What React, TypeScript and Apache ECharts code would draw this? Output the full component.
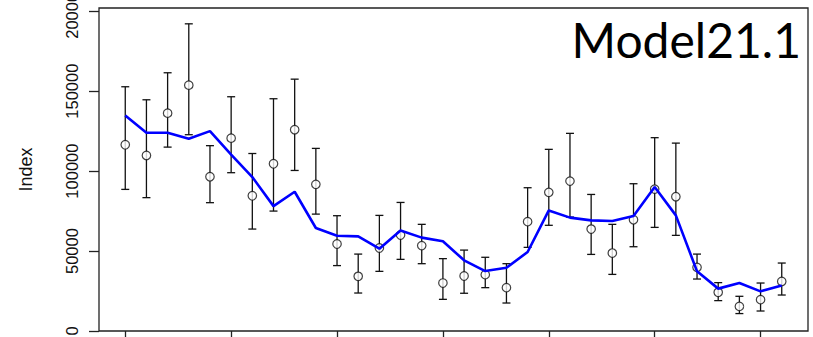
import React, { useEffect, useRef } from "react";
import * as echarts from "echarts";

const years = [1990,1991,1992,1993,1994,1995,1996,1997,1998,1999,2000,2001,2002,2003,2004,2005,2006,2007,2008,2009,2010,2011,2012,2013,2014,2015,2016,2017,2018,2019,2020,2021];
const observed = [116500,109800,136250,153750,96500,120600,84600,104600,125900,91700,54400,34200,51900,60000,53400,30000,34400,35250,27100,68400,86700,93750,63750,48750,69600,88750,84000,39800,24200,15400,19600,31000];
const upper = [152750,144600,161500,192100,115900,146500,111000,145250,157500,114200,72100,48100,72300,80400,66700,45250,50600,46100,42100,89600,113600,123600,85400,66700,92100,120900,117500,48100,30250,21700,30000,42500];
const lower = [88560,83400,115000,122750,80250,99000,63750,75000,100400,73100,40900,23750,37300,44800,42100,19800,23600,27100,17500,52300,66100,71250,47900,35400,52700,64800,59800,32500,19000,10900,12500,22500];
const model = [134800,124000,124000,120250,125000,110250,96250,78100,87100,64400,59600,59200,51500,62900,58400,56100,44200,37500,39600,49400,75400,70900,69200,68750,71900,90000,72300,37300,26500,30000,24800,28400];
const xTicks = [1990,1995,2000,2005,2010,2015,2020];
const yTicks = [0,50000,100000,150000,200000];
const title = "Model21.1";

export default function App() {
  const ref = useRef<HTMLDivElement>(null);
  useEffect(() => {
    const chart = echarts.init(ref.current!, null, { renderer: "svg" });
    const errData = years.map((y, i) => [y, lower[i], upper[i]]);
    chart.setOption({
      animation: false,
      backgroundColor: "#fff",
      grid: { left: 99, right: 5, top: 8, bottom: 6, containLabel: false, outerBoundsMode: "none", show: true, borderColor: "#222", borderWidth: 1.3, backgroundColor: "transparent" },
      xAxis: {
        type: "value",
        min: years[0] - 1.24,
        max: years[years.length - 1] + 1.24,
        axisLine: { show: false },
        splitLine: { show: false },
        axisTick: { show: true, length: 7, customValues: xTicks, lineStyle: { color: "#222", width: 1.3 } },
        axisLabel: { show: false },
      },
      yAxis: {
        type: "value",
        min: 0,
        max: 202000,
        interval: 50000,
        name: "Index",
        nameLocation: "middle",
        nameGap: 64,
        nameRotate: 90,
        nameTextStyle: { fontFamily: "Liberation Sans", fontSize: 18, color: "#111" },
        axisLine: { show: false },
        splitLine: { show: false },
        axisTick: { show: true, length: 10, customValues: yTicks, lineStyle: { color: "#222", width: 1.3 } },
        axisLabel: { rotate: 90, margin: 19, fontFamily: "Liberation Sans", fontSize: 16.5, color: "#111", customValues: yTicks, formatter: (v: number) => String(v) },
      },
      graphic: [
        { type: "text", right: 12, top: 15, style: { text: title, fontFamily: "Lato", fontSize: 48, fill: "#000" } },
      ],
      series: [
        {
          type: "custom",
          z: 2,
          data: errData,
          renderItem: (params: any, api: any) => {
            const x = api.value(0);
            const lo = api.coord([x, api.value(1)]);
            const hi = api.coord([x, api.value(2)]);
            const w = 4;
            const style = { stroke: "#111", lineWidth: 1.3, fill: "none" };
            return {
              type: "group",
              children: [
                { type: "line", shape: { x1: lo[0], y1: lo[1], x2: hi[0], y2: hi[1] }, style },
                { type: "line", shape: { x1: lo[0] - w, y1: lo[1], x2: lo[0] + w, y2: lo[1] }, style },
                { type: "line", shape: { x1: hi[0] - w, y1: hi[1], x2: hi[0] + w, y2: hi[1] }, style },
              ],
            };
          },
        },
        {
          type: "scatter",
          z: 3,
          data: years.map((y, i) => [y, observed[i]]),
          symbol: "circle",
          symbolSize: 8.5,
          itemStyle: { color: "#fff", borderColor: "#111", borderWidth: 1.2 },
        },
        {
          type: "line",
          z: 4,
          data: years.map((y, i) => [y, model[i]]),
          showSymbol: false,
          lineStyle: { color: "#0000ff", width: 2.6 },
        },
      ],
    });
    return () => chart.dispose();
  }, []);
  return <div ref={ref} style={{ position: "fixed", left: 0, top: 0, width: 813, height: 337 }} />;
}
